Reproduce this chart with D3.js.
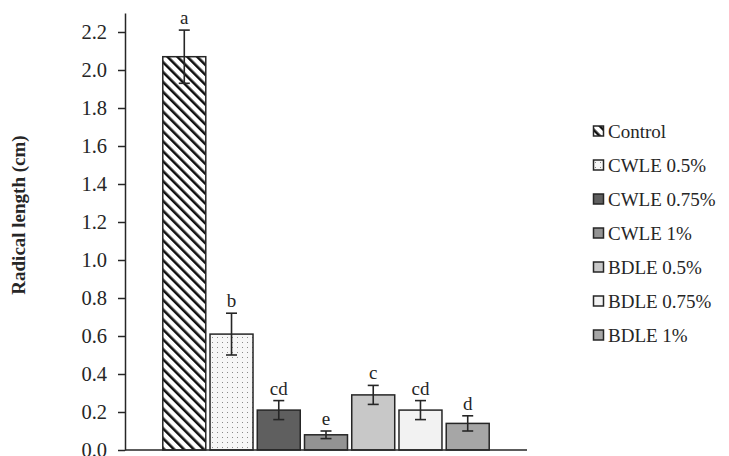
<!DOCTYPE html>
<html>
<head>
<meta charset="utf-8">
<script src="https://cdn.jsdelivr.net/npm/d3@7"></script>
<style>
  body { margin: 0; background: #fff; }
  text { font-family: "Liberation Serif", "Times New Roman", serif; fill: #262626; }
</style>
</head>
<body>
<div id="chart"></div>
<script>
let width = 729;
let height = 456;

// data
const groups = ["Control", "CWLE 0.5%", "CWLE 0.75%", "CWLE 1%", "BDLE 0.5%", "BDLE 0.75%", "BDLE 1%"];
const means = [2.07, 0.61, 0.21, 0.08, 0.29, 0.21, 0.14];
const errors = [0.14, 0.11, 0.05, 0.02, 0.05, 0.05, 0.04];
const letters = ["a", "b", "cd", "e", "c", "cd", "d"];
const yTicks = [0, 0.2, 0.4, 0.6, 0.8, 1.0, 1.2, 1.4, 1.6, 1.8, 2.0, 2.2];

const fills = ["url(#hatch)", "url(#dots)", "#5f5f5f", "#939393", "#c8c8c8", "#f2f2f2", "#a6a6a6"];
const ink = "#262626";

let svg = d3.select("#chart")
    .append("svg")
    .attr("width", width)
    .attr("height", height);

// patterns for the first two bars
let defs = svg.append("defs");
let hatch = defs.append("pattern")
    .attr("id", "hatch")
    .attr("patternUnits", "userSpaceOnUse")
    .attr("width", 7)
    .attr("height", 7)
    .attr("patternTransform", "rotate(-45)");
hatch.append("rect").attr("width", 7).attr("height", 7).attr("fill", "#fff");
hatch.append("rect").attr("x", 0).attr("width", 2.6).attr("height", 7).attr("fill", "#111");

let dots = defs.append("pattern")
    .attr("id", "dots")
    .attr("patternUnits", "userSpaceOnUse")
    .attr("width", 5)
    .attr("height", 5);
dots.append("rect").attr("width", 5).attr("height", 5).attr("fill", "#f7f7f7");
dots.append("rect").attr("x", 2).attr("y", 2).attr("width", 1).attr("height", 1).attr("fill", "#8a8a8a");

// scales
let x = d3.scaleBand()
    .domain(groups)
    .range([125, 527])
    .paddingInner(0.09)
    .paddingOuter(0.8);

let y = d3.scaleLinear()
    .domain([0, 2.3])
    .range([450, 13]);

// y axis
let yAxis = svg.append("g")
    .attr("transform", "translate(125,0)")
    .call(d3.axisLeft(y).tickValues(yTicks).tickSize(7).tickSizeOuter(0).tickFormat(d3.format(".1f")));
yAxis.selectAll("path, line").attr("stroke", ink).attr("stroke-width", 1.5);
yAxis.selectAll("text")
    .attr("font-size", 20.5)
    .attr("x", -18)
    .attr("fill", ink);

// bars
let bars = svg.selectAll(".bar")
    .data(groups)
    .enter()
    .append("rect")
    .attr("class", "bar")
    .attr("x", d => x(d))
    .attr("y", (d, i) => y(means[i]))
    .attr("width", x.bandwidth())
    .attr("height", (d, i) => y(0) - y(means[i]))
    .attr("fill", (d, i) => fills[i])
    .attr("stroke", ink)
    .attr("stroke-width", 1.5);

// error bars
let err = svg.selectAll(".err")
    .data(groups)
    .enter()
    .append("g")
    .attr("class", "err")
    .attr("stroke", ink)
    .attr("stroke-width", 1.6);

err.append("line")
    .attr("x1", d => x(d) + x.bandwidth() / 2)
    .attr("x2", d => x(d) + x.bandwidth() / 2)
    .attr("y1", (d, i) => y(means[i] + errors[i]))
    .attr("y2", (d, i) => y(means[i] - errors[i]));
err.append("line")
    .attr("x1", d => x(d) + x.bandwidth() / 2 - 5.5)
    .attr("x2", d => x(d) + x.bandwidth() / 2 + 5.5)
    .attr("y1", (d, i) => y(means[i] + errors[i]))
    .attr("y2", (d, i) => y(means[i] + errors[i]));
err.append("line")
    .attr("x1", d => x(d) + x.bandwidth() / 2 - 5.5)
    .attr("x2", d => x(d) + x.bandwidth() / 2 + 5.5)
    .attr("y1", (d, i) => y(means[i] - errors[i]))
    .attr("y2", (d, i) => y(means[i] - errors[i]));

// significance letters
svg.selectAll(".letter")
    .data(groups)
    .enter()
    .append("text")
    .attr("class", "letter")
    .attr("x", d => x(d) + x.bandwidth() / 2)
    .attr("y", (d, i) => y(means[i] + errors[i]) - 6)
    .attr("text-anchor", "middle")
    .attr("font-size", 19)
    .text((d, i) => letters[i]);

// x axis line
svg.append("line")
    .attr("x1", 125).attr("x2", 527)
    .attr("y1", y(0)).attr("y2", y(0))
    .attr("stroke", ink)
    .attr("stroke-width", 1.5);

// y axis title
svg.append("text")
    .attr("transform", "translate(25,215) rotate(-90)")
    .attr("text-anchor", "middle")
    .attr("font-size", 19)
    .attr("font-weight", "bold")
    .text("Radical length (cm)");

// legend
let legend = svg.selectAll(".legend")
    .data(groups)
    .enter()
    .append("g")
    .attr("class", "legend")
    .attr("transform", (d, i) => "translate(593," + (131 + i * 34) + ")");

legend.append("rect")
    .attr("x", 0.5)
    .attr("y", -5)
    .attr("width", 10)
    .attr("height", 10)
    .attr("fill", (d, i) => fills[i])
    .attr("stroke", ink)
    .attr("stroke-width", 1.5);

legend.append("text")
    .attr("x", 15)
    .attr("y", 6.5)
    .attr("font-size", 19)
    .text(d => d);
</script>
</body>
</html>
